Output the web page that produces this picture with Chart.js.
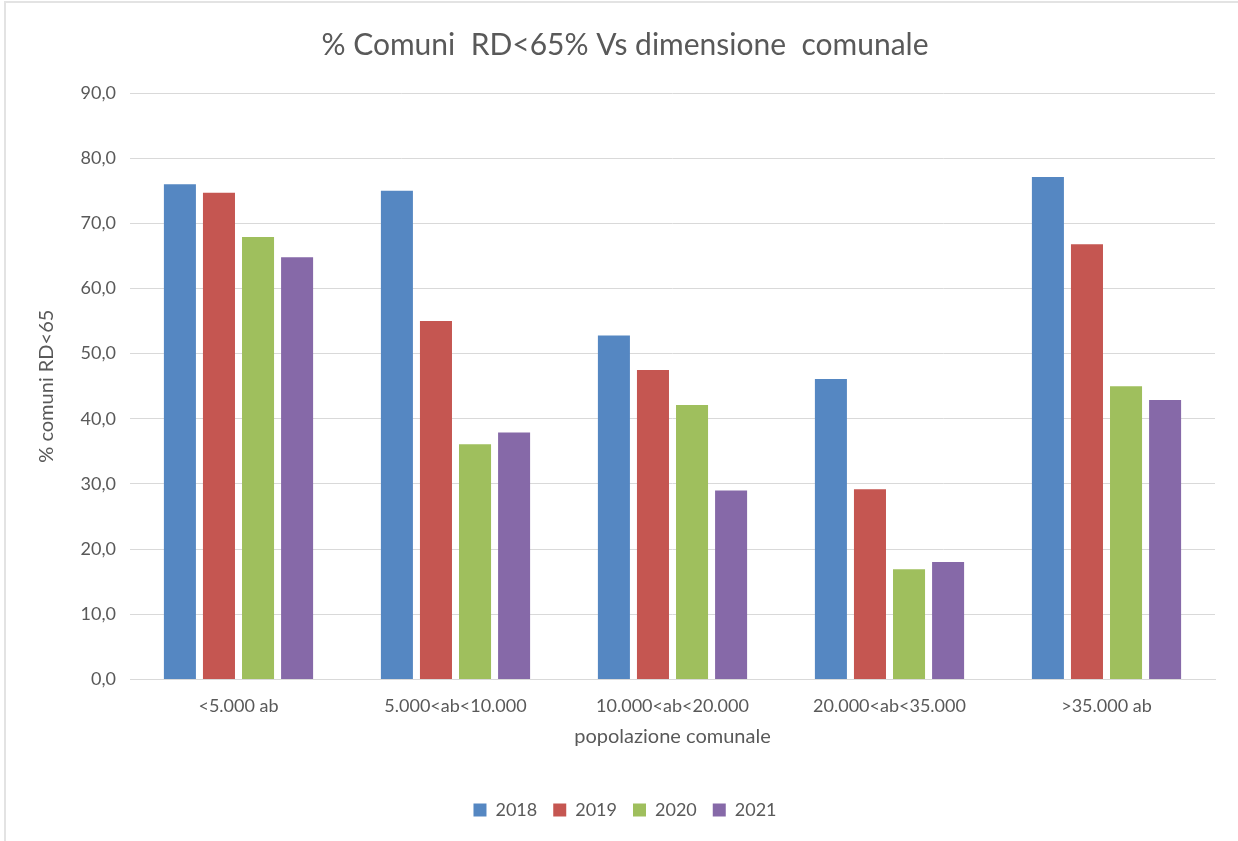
<!DOCTYPE html>
<html>
<head>
<meta charset="utf-8">
<script src="https://cdn.jsdelivr.net/npm/chart.js@4.4.1/dist/chart.umd.min.js"></script>
<style>
  html, body { margin: 0; padding: 0; background: #fff; }
  #wrap { width: 1238px; height: 841px; position: relative; }
  #edge { position: absolute; left: 4px; top: 1px; right: 0; bottom: 0; border-left: 2px solid #e3e3e3; border-top: 2px solid #e3e3e3; pointer-events: none; }
</style>
</head>
<body>
<div id="wrap"><canvas id="chart" width="1238" height="841"></canvas><div id="edge"></div></div>
<script>
const categories = ['<5.000 ab', '5.000<ab<10.000', '10.000<ab<20.000', '20.000<ab<35.000', '>35.000 ab']
const years = ['2018', '2019', '2020', '2021']
const values2018 = [76.0, 75.0, 52.8, 46.1, 77.1]
const values2019 = [74.7, 55.0, 47.5, 29.2, 66.8]
const values2020 = [67.9, 36.1, 42.1, 16.9, 45.0]
const values2021 = [64.8, 37.9, 29.0, 18.0, 42.9]

const COLORS = ['#5587c2', '#c55651', '#9fbf5d', '#8669a8']
const FONT = 'Lato, "Open Sans", sans-serif'
const TEXT = '#595959'

const series = [values2018, values2019, values2020, values2021]

const data = {
  labels: categories,
  datasets: series.map((vals, i) => ({
    label: years[i],
    data: vals,
    backgroundColor: COLORS[i],
    borderWidth: 0,
    categoryPercentage: 0.72,
    barPercentage: 0.82,
  })),
}

new Chart(document.getElementById('chart').getContext('2d'), {
  type: 'bar',
  data: data,
  options: {
    responsive: false,
    animation: false,
    layout: { padding: { left: 35, right: 23, top: 27, bottom: 12 } },
    plugins: {
      title: {
        display: true,
        text: '% Comuni  RD<65% Vs dimensione  comunale',
        color: TEXT,
        font: { family: FONT, size: 30, weight: 'normal' },
        padding: { top: 0, bottom: 30 },
      },
      legend: {
        position: 'bottom',
        labels: {
          color: TEXT,
          font: { family: FONT, size: 18 },
          boxWidth: 13,
          boxHeight: 13,
          padding: 16,
        },
      },
      tooltip: { enabled: false },
    },
    scales: {
      x: {
        grid: { display: false },
        border: { color: '#d9d9d9' },
        ticks: { color: TEXT, font: { family: FONT, size: 18 }, padding: 8 },
        title: {
          display: true,
          text: 'popolazione comunale',
          color: TEXT,
          font: { family: FONT, size: 20 },
          padding: { top: 0, bottom: 36 },
        },
      },
      y: {
        min: 0,
        max: 90,
        ticks: {
          stepSize: 10,
          color: TEXT,
          font: { family: FONT, size: 18 },
          padding: 14,
          callback: (v) => v.toFixed(1).replace('.', ','),
        },
        grid: { color: '#d9d9d9', drawTicks: false },
        border: { display: false },
        title: {
          display: true,
          text: '% comuni RD<65',
          color: TEXT,
          font: { family: FONT, size: 20 },
          padding: { top: 0, bottom: 6 },
        },
        afterFit: (scale) => { scale.width = 95 },
      },
    },
  },
})
</script>
</body>
</html>
